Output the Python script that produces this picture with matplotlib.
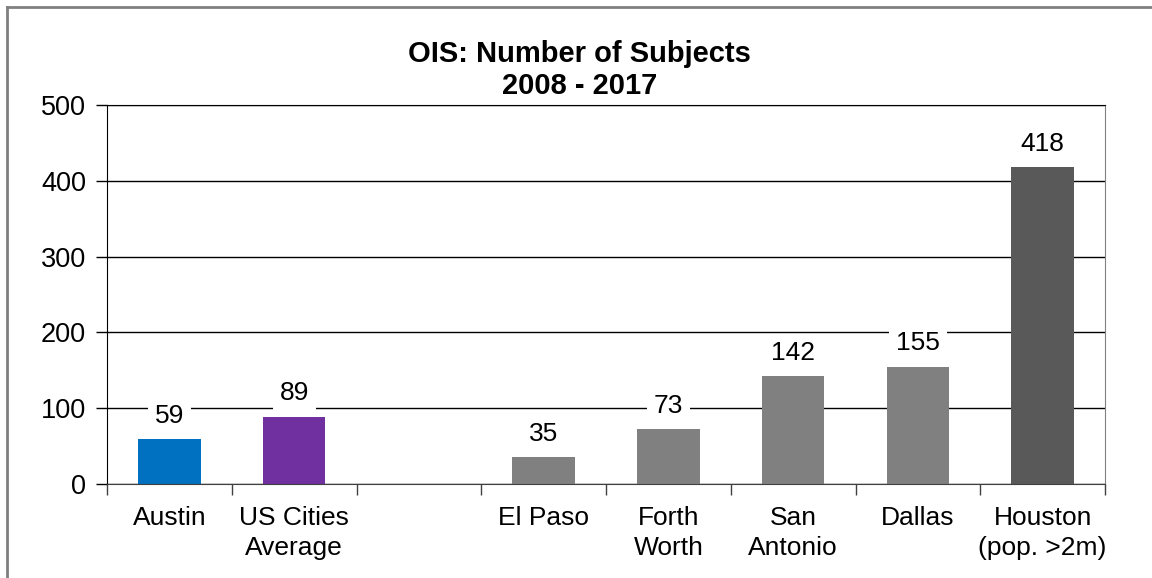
import matplotlib
matplotlib.use("Agg")
import matplotlib.pyplot as plt
from matplotlib.lines import Line2D
import numpy as np

plt.rcParams['font.family'] = ['Liberation Sans', 'DejaVu Sans']

cities = ["Austin", "US Cities\nAverage", "", "El Paso", "Forth\nWorth",
          "San\nAntonio", "Dallas", "Houston\n(pop. >2m)"]
subjects = [59, 89, None, 35, 73, 142, 155, 418]
colors = ["#0070C0", "#7030A0", "white", "#808080", "#808080",
          "#808080", "#808080", "#595959"]

fig = plt.figure(figsize=(11.52, 5.78), dpi=100)
ax = fig.add_axes([0.0929, 0.1626, 0.8663, 0.6557])

x = np.arange(len(cities))
for i, v in enumerate(subjects):
    if v is None:
        continue
    ax.bar(x[i], v, width=0.5, color=colors[i], zorder=2)
    ax.annotate(str(v), (x[i], v), xytext=(0, 8), textcoords="offset points",
                ha="center", va="bottom", fontsize=19, zorder=3,
                bbox=dict(facecolor="white", edgecolor="none", pad=5))

ax.set_xlim(-0.5, len(cities) - 0.5)
ax.set_ylim(0, 500)
ax.set_yticks(range(0, 501, 100))
ax.yaxis.grid(True, color="black", linewidth=1, zorder=0)
ax.set_axisbelow(True)
ax.tick_params(axis="y", labelsize=19.5, length=8, width=1, pad=7)

ax.set_xticks(np.arange(-0.5, len(cities), 1.0))
ax.set_xticklabels([])
ax.tick_params(axis="x", which="major", length=8, width=1, color="#404040")
ax.set_xticks(x, minor=True)
ax.set_xticklabels(cities, minor=True, fontsize=19, linespacing=1.3)
ax.tick_params(axis="x", which="minor", length=0, pad=16)

ax.spines["right"].set_color("#808080")
ax.spines["bottom"].set_color("#404040")
ax.spines["top"].set_color("black")

fig.text(0.503, 0.879, "OIS: Number of Subjects\n2008 - 2017", ha="center",
         va="center", fontsize=21, fontweight="bold", linespacing=1.2)

fig.add_artist(Line2D([0.0065, 1.0], [0.9875, 0.9875], color="#808080", lw=2))
fig.add_artist(Line2D([0.0065, 0.0065], [0.0, 0.9875], color="#808080", lw=2))

fig.savefig("out.png", dpi=100)
